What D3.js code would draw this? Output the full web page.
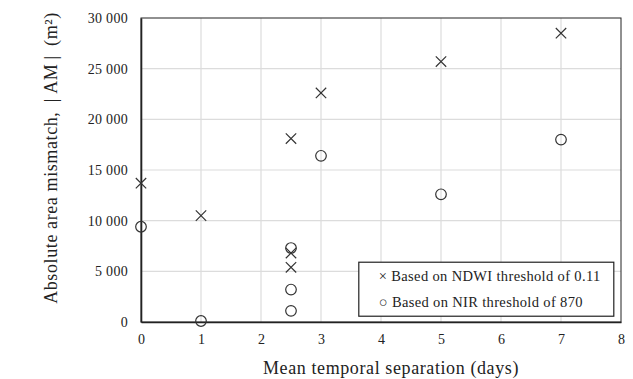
<!DOCTYPE html>
<html>
<head>
<meta charset="utf-8">
<script src="https://cdn.jsdelivr.net/npm/d3@7"></script>
<style>
  body { margin: 0; background: #fff; }
  svg text { font-family: "Liberation Serif", "DejaVu Serif", serif; fill: #222; }
</style>
</head>
<body>
<svg id="chart" width="633" height="379"></svg>
<script>
'use strict';

// values
const ndwiDays = [0, 1, 2.5, 2.5, 2.5, 3, 5, 7];
const ndwiMismatch = [13700, 10500, 18100, 6800, 5400, 22600, 25700, 28500];
const nirDays = [0, 1, 2.5, 2.5, 2.5, 3, 5, 7];
const nirMismatch = [9400, 100, 7300, 3200, 1100, 16400, 12600, 18000];
const xTicks = [0, 1, 2, 3, 4, 5, 6, 7, 8];
const yTicks = [0, 5000, 10000, 15000, 20000, 25000, 30000];
const legendLabels = ['Based on NDWI threshold of 0.11', 'Based on NIR threshold of 870'];

const svg = d3.select('#chart');
const margin = { left: 141, right: 12, top: 18, bottom: 57 };
const width = 633 - margin.left - margin.right;
const height = 379 - margin.top - margin.bottom;

const x = d3.scaleLinear().domain([0, 8]).range([0, width]);
const y = d3.scaleLinear().domain([0, 30000]).range([height, 0]);

const fmt = d3.formatLocale({ decimal: '.', thousands: ' ', grouping: [3], currency: ['', ''] }).format(',');

const g = svg.append('g').attr('transform', `translate(${margin.left},${margin.top})`);

// grid
g.append('g')
  .selectAll('line.gx')
  .data(xTicks.slice(1, -1))
  .join('line')
  .attr('x1', d => x(d)).attr('x2', d => x(d))
  .attr('y1', 0).attr('y2', height)
  .attr('stroke', '#dcdcdc').attr('stroke-width', 1.2);

g.append('g')
  .selectAll('line.gy')
  .data(yTicks.slice(1, -1))
  .join('line')
  .attr('x1', 0).attr('x2', width)
  .attr('y1', d => y(d)).attr('y2', d => y(d))
  .attr('stroke', '#dcdcdc').attr('stroke-width', 1.2);

// plot frame
g.append('rect')
  .attr('width', width).attr('height', height)
  .attr('fill', 'none').attr('stroke', '#222').attr('stroke-width', 1);

// axes
const xAxis = g.append('g')
  .attr('transform', `translate(0,${height})`)
  .call(d3.axisBottom(x).tickValues(xTicks).tickSize(0).tickPadding(12));
xAxis.select('.domain').attr('stroke', '#222').attr('stroke-width', 1.6);
xAxis.selectAll('text').style('font-size', '14px');

const yAxis = g.append('g')
  .call(d3.axisLeft(y).tickValues(yTicks).tickFormat(fmt).tickSize(0).tickPadding(13));
yAxis.select('.domain').attr('stroke', '#222').attr('stroke-width', 1.6);
yAxis.selectAll('text').style('font-size', '14px').style('letter-spacing', '0.3px');

// markers
const crossSize = 5.2;
g.append('g')
  .selectAll('path')
  .data(ndwiDays.map((d, i) => [d, ndwiMismatch[i]]))
  .join('path')
  .attr('transform', d => `translate(${x(d[0])},${y(d[1])})`)
  .attr('d', `M${-crossSize},${-crossSize}L${crossSize},${crossSize}M${-crossSize},${crossSize}L${crossSize},${-crossSize}`)
  .attr('stroke', '#333').attr('stroke-width', 1.2).attr('fill', 'none');

g.append('g')
  .selectAll('circle')
  .data(nirDays.map((d, i) => [d, nirMismatch[i]]))
  .join('circle')
  .attr('cx', d => x(d[0])).attr('cy', d => y(d[1]))
  .attr('r', 5.3)
  .attr('stroke', '#333').attr('stroke-width', 1.2).attr('fill', 'none');

// legend
const legend = g.append('g').attr('transform', `translate(${x(3.63)},${y(5900)})`);
legend.append('rect')
  .attr('width', 255).attr('height', 54)
  .attr('fill', '#fff').attr('stroke', '#222').attr('stroke-width', 1.2);
legend.append('text')
  .attr('x', 20).attr('y', 14).attr('dy', '0.35em')
  .style('font-size', '14.5px').style('letter-spacing', '0.35px')
  .text('\u00d7 ' + legendLabels[0]);
legend.append('text')
  .attr('x', 20).attr('y', 40).attr('dy', '0.35em')
  .style('font-size', '14.5px').style('letter-spacing', '0.35px')
  .text('\u25cb ' + legendLabels[1]);

// axis titles
svg.append('text')
  .attr('x', 391).attr('y', 374)
  .attr('text-anchor', 'middle')
  .style('font-size', '18px').style('letter-spacing', '0.6px')
  .text('Mean temporal separation (days)');

svg.append('text')
  .attr('transform', `translate(57,${margin.top + height / 2 - 12}) rotate(-90)`)
  .attr('text-anchor', 'middle')
  .style('font-size', '18px').style('letter-spacing', '0.6px')
  .text('Absolute area mismatch, \u2009|\u2009AM\u2009|\u2009 (m²)');
</script>
</body>
</html>
